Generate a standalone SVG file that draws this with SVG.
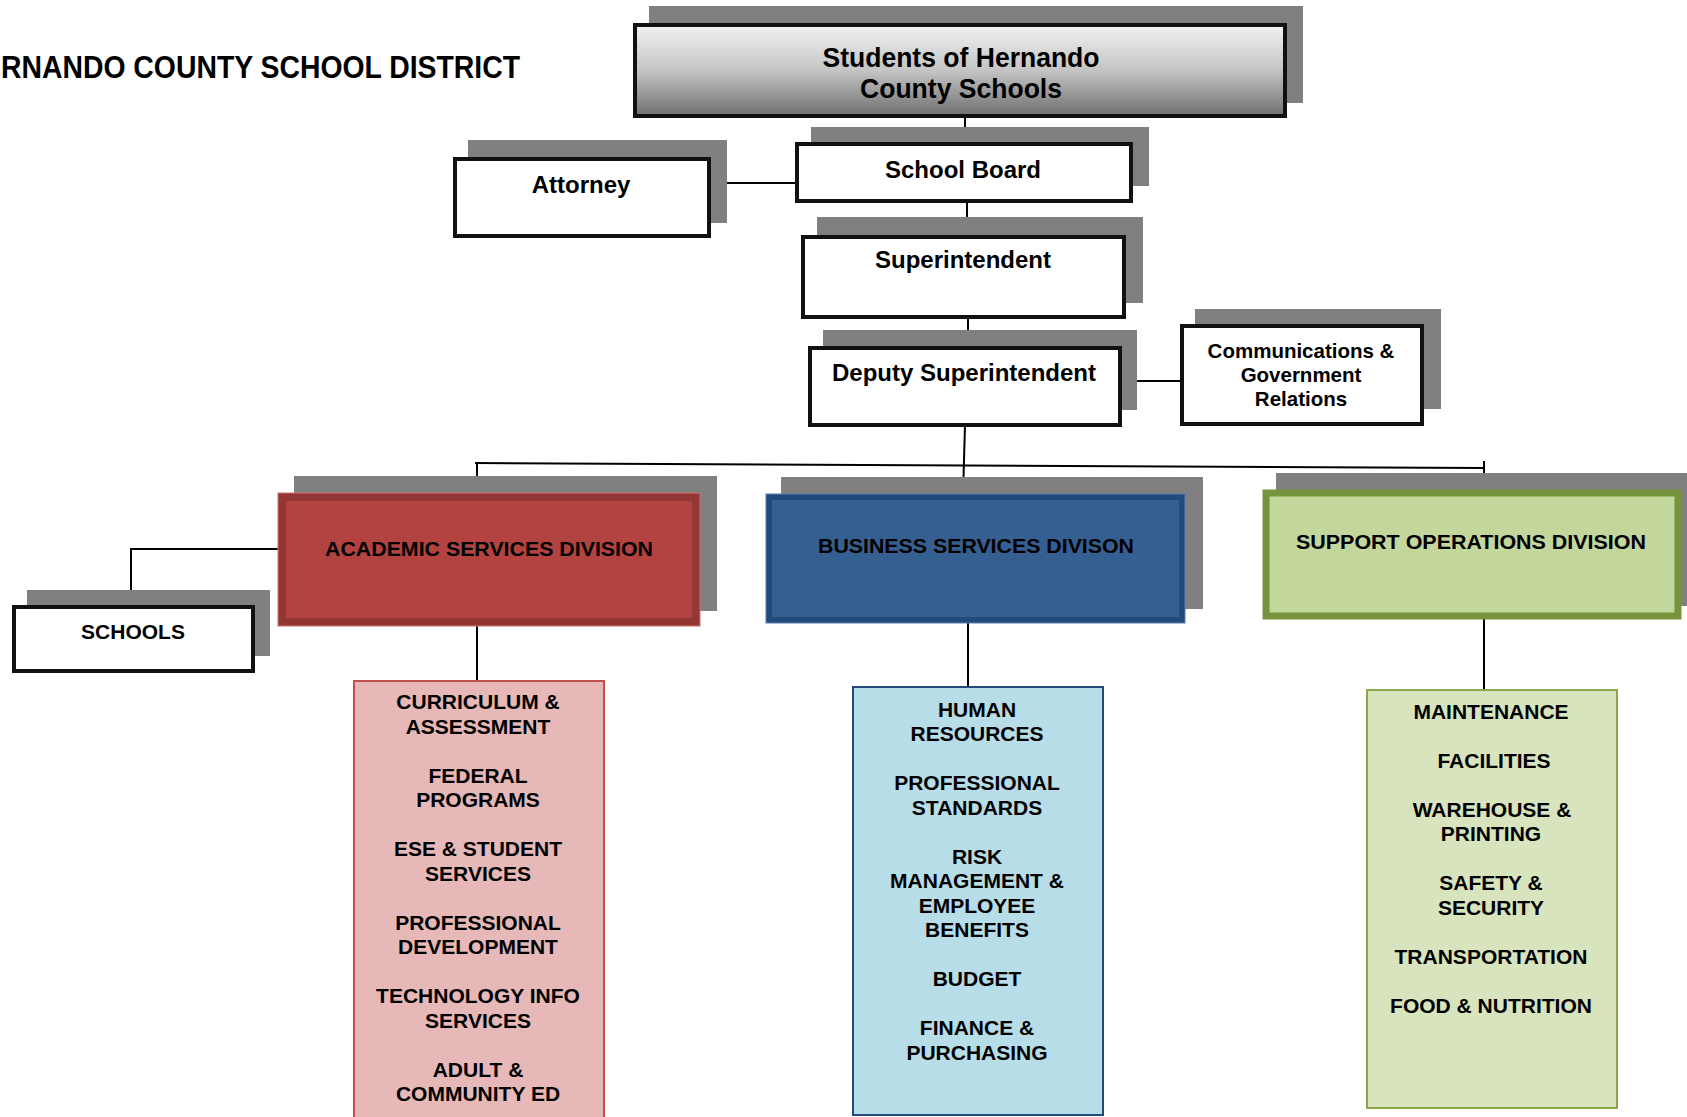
<svg xmlns="http://www.w3.org/2000/svg" width="1687" height="1117" viewBox="0 0 1687 1117">
<defs>
<linearGradient id="gTop" x1="0" y1="0" x2="0" y2="1">
<stop offset="0" stop-color="#f2f2f2"/>
<stop offset="0.5" stop-color="#c4c4c4"/>
<stop offset="1" stop-color="#6e6e6e"/>
</linearGradient>
<style>
.sh{fill:#808080;}
.bx{fill:#ffffff;stroke:#111111;stroke-width:4;}
.t{font-family:"Liberation Sans",Arial,sans-serif;font-weight:bold;fill:#000;text-anchor:middle;}
.t24{font-size:24px;}
.t21{font-size:21px;}
.t20{font-size:20.5px;}
.ln{stroke:#000;stroke-width:2;fill:none;}
</style>
</defs>
<rect width="1687" height="1117" fill="#ffffff"/>

<text class="t" x="1" y="78" style="text-anchor:start;font-size:32px" textLength="519" lengthAdjust="spacingAndGlyphs">RNANDO COUNTY SCHOOL DISTRICT</text>

<g id="connectors">
<line class="ln" x1="965" y1="116" x2="965" y2="143"/>
<line class="ln" x1="709" y1="183" x2="796" y2="183"/>
<line class="ln" x1="967" y1="201" x2="967" y2="236"/>
<line class="ln" x1="968" y1="317" x2="968" y2="347"/>
<line class="ln" x1="1120" y1="381" x2="1181" y2="381"/>
<line class="ln" x1="965" y1="425" x2="963" y2="495"/>
<line class="ln" x1="475" y1="463" x2="1484" y2="468"/>
<line class="ln" x1="477" y1="462" x2="477" y2="494"/>
<line class="ln" x1="1484" y1="461" x2="1484" y2="474"/>
<polyline class="ln" points="278,549 131,549 131,606"/>
<line class="ln" x1="477" y1="626" x2="477" y2="680"/>
<line class="ln" x1="968" y1="623" x2="968" y2="686"/>
<line class="ln" x1="1484" y1="619" x2="1484" y2="689"/>
</g>

<g id="students">
<rect class="sh" x="649" y="6" width="654" height="97"/>
<rect x="635" y="25" width="650" height="91" fill="url(#gTop)" stroke="#111" stroke-width="4"/>
<text class="t" x="961" y="67" style="font-size:27px" textLength="277" lengthAdjust="spacingAndGlyphs">Students of Hernando</text>
<text class="t" x="961" y="98" style="font-size:27px" textLength="202" lengthAdjust="spacingAndGlyphs">County Schools</text>
</g>

<g id="attorney">
<rect class="sh" x="468" y="140" width="259" height="83"/>
<rect class="bx" x="455" y="159" width="254" height="77"/>
<text class="t t24" x="581" y="193">Attorney</text>
</g>

<g id="school-board">
<rect class="sh" x="811" y="127" width="338" height="59"/>
<rect class="bx" x="797" y="144" width="334" height="57"/>
<text class="t t24" x="963" y="178">School Board</text>
</g>

<g id="superintendent">
<rect class="sh" x="817" y="217" width="326" height="86"/>
<rect class="bx" x="803" y="237" width="321" height="80"/>
<text class="t t24" x="963" y="268">Superintendent</text>
</g>

<g id="deputy">
<rect class="sh" x="823" y="330" width="314" height="80"/>
<rect class="bx" x="810" y="348" width="310" height="77"/>
<text class="t t24" x="964" y="381">Deputy Superintendent</text>
</g>

<g id="communications">
<rect class="sh" x="1195" y="309" width="246" height="100"/>
<rect class="bx" x="1182" y="326" width="240" height="98"/>
<text class="t t20" x="1301" y="358">Communications &amp;</text>
<text class="t t20" x="1301" y="382">Government</text>
<text class="t t20" x="1301" y="406">Relations</text>
</g>

<g id="academic">
<rect class="sh" x="294" y="476" width="423" height="135"/>
<rect x="282" y="497" width="414" height="125" fill="#b24340" stroke="#943634" stroke-width="8"/>
<rect x="278" y="493" width="422" height="133" fill="none" stroke="#c97370" stroke-width="1"/>
<text class="t t21" x="489" y="556" textLength="328" lengthAdjust="spacingAndGlyphs">ACADEMIC SERVICES DIVISION</text>
</g>

<g id="schools">
<rect class="sh" x="27" y="590" width="243" height="66"/>
<rect class="bx" x="14" y="607" width="239" height="64"/>
<text class="t t21" x="133" y="639">SCHOOLS</text>
</g>

<g id="business">
<rect class="sh" x="781" y="477" width="422" height="132"/>
<rect x="769" y="497" width="413" height="123" fill="#365f91" stroke="#244a7a" stroke-width="6"/>
<rect x="766" y="494" width="419" height="129" fill="none" stroke="#5a7fac" stroke-width="1"/>
<text class="t t21" x="976" y="553" textLength="316" lengthAdjust="spacingAndGlyphs">BUSINESS SERVICES DIVISON</text>
</g>

<g id="support">
<rect class="sh" x="1276" y="473" width="414" height="133"/>
<rect x="1266" y="493" width="412" height="123" fill="#c3d69b" stroke="#77933c" stroke-width="7"/>
<text class="t t21" x="1471" y="549" textLength="350" lengthAdjust="spacingAndGlyphs">SUPPORT OPERATIONS DIVISION</text>
</g>

<g id="academic-list">
<rect x="354" y="681" width="250" height="445" fill="#e6b8b7" stroke="#c0504d" stroke-width="2"/>
<g class="t t21">
<text x="478" y="709">CURRICULUM &amp;</text>
<text x="478" y="733.5">ASSESSMENT</text>
<text x="478" y="782.5">FEDERAL</text>
<text x="478" y="807">PROGRAMS</text>
<text x="478" y="856">ESE &amp; STUDENT</text>
<text x="478" y="880.5">SERVICES</text>
<text x="478" y="929.5">PROFESSIONAL</text>
<text x="478" y="954">DEVELOPMENT</text>
<text x="478" y="1003">TECHNOLOGY INFO</text>
<text x="478" y="1027.5">SERVICES</text>
<text x="478" y="1076.5">ADULT &amp;</text>
<text x="478" y="1101">COMMUNITY ED</text>
</g>
</g>

<g id="business-list">
<rect x="853" y="687" width="250" height="428" fill="#b7dde8" stroke="#254a7a" stroke-width="2"/>
<g class="t t21">
<text x="977" y="716.5">HUMAN</text>
<text x="977" y="741">RESOURCES</text>
<text x="977" y="790">PROFESSIONAL</text>
<text x="977" y="814.5">STANDARDS</text>
<text x="977" y="863.5">RISK</text>
<text x="977" y="888">MANAGEMENT &amp;</text>
<text x="977" y="912.5">EMPLOYEE</text>
<text x="977" y="937">BENEFITS</text>
<text x="977" y="986">BUDGET</text>
<text x="977" y="1035">FINANCE &amp;</text>
<text x="977" y="1059.5">PURCHASING</text>
</g>
</g>

<g id="support-list">
<rect x="1367" y="690" width="250" height="418" fill="#d7e4bd" stroke="#8aa84a" stroke-width="2"/>
<g class="t t21">
<text x="1491" y="718.5">MAINTENANCE</text>
<text x="1494" y="767.5">FACILITIES</text>
<text x="1492" y="816.5">WAREHOUSE &amp;</text>
<text x="1491" y="841">PRINTING</text>
<text x="1491" y="890">SAFETY &amp;</text>
<text x="1491" y="914.5">SECURITY</text>
<text x="1491" y="963.5">TRANSPORTATION</text>
<text x="1491" y="1012.5">FOOD &amp; NUTRITION</text>
</g>
</g>
</svg>
